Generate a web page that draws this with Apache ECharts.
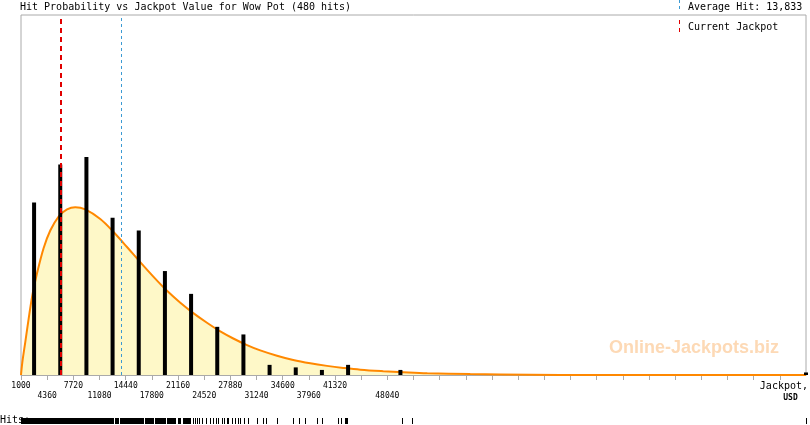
<!DOCTYPE html>
<html>
<head>
<meta charset="utf-8">
<script src="https://cdn.jsdelivr.net/npm/echarts@6/dist/echarts.min.js"></script>
<style>
  html, body { margin: 0; padding: 0; background: #fff; }
  #chart { width: 810px; height: 425px; }
</style>
</head>
<body>
<div id="chart"></div>
<script>
// hits per 3360 USD bin (bin centers), the last one sits on the axis end
const binCenters = [2680, 6040, 9400, 12760, 16120, 19480, 22840, 26200, 29560, 32920, 36280, 39640, 43000, 49720, 101800]
const binHits = [68, 83, 86, 62, 57, 41, 32, 19, 16, 4, 3, 2, 4, 2, 1]

// fitted probability curve (in hits per bin)
const curveX = [1000, 1170, 1550, 2070, 2490, 3050, 3900, 4760, 5830, 6910, 7970, 9260, 11180, 12850, 14610, 16310, 17990, 19750, 21460, 23130, 24880, 26590, 28260, 30020, 31720, 33870, 35960, 38150, 40290, 42380, 44570, 47520, 50090, 53170, 58690, 62540, 70250, 101800]
const curveY = [0, 5, 13, 24, 32, 40, 50, 57, 62.5, 65.3, 66.2, 65.3, 61.5, 56.5, 50.5, 44.5, 38.8, 33.2, 28.5, 24.4, 20.6, 17.2, 14.4, 11.8, 9.7, 7.6, 5.9, 4.6, 3.6, 2.8, 2.1, 1.5, 1.1, 0.7, 0.35, 0.2, 0, 0]

// individual hits strip (from, to) in USD
const rugFrom = [1040, 13110, 13750, 16700, 16960, 17730, 18240, 18630, 19780, 21200, 21840, 22740, 23120, 23380, 23640, 23890, 24280, 24790, 25310, 25690, 26080, 26330, 26850, 27110, 27490, 28140, 28520, 28910, 29160, 29680, 30190, 31350, 32120, 32500, 33910, 35960, 36730, 37500, 39040, 39690, 41740, 42130, 42640, 49960, 51240, 101800]
const rugTo = [12850, 13490, 16570, 16700, 17600, 17990, 18500, 19530, 20810, 21450, 22610, 22740, 23120, 23380, 23640, 23890, 24280, 24790, 25310, 25690, 26080, 26330, 26850, 27110, 27620, 28140, 28520, 28910, 29160, 29680, 30190, 31350, 32120, 32500, 33910, 35960, 36730, 37500, 39040, 39690, 41740, 42130, 42900, 49960, 51240, 101800]

// tick labels, two staggered rows
const labelsTop = [1000, 7720, 14440, 21160, 27880, 34600, 41320]
const labelsBottom = [4360, 11080, 17800, 24520, 31240, 37960, 48040]

const averageHit = 13833
const currentJackpot = 6050
const totalHits = 480

const mono = '"DejaVu Sans Mono", monospace'

const chart = echarts.init(document.getElementById('chart'))

const option = {
  animation: false,
  grid: [
    { left: 21, right: 4, top: 15, height: 360, show: true, borderColor: '#aaa', borderWidth: 1, outerBoundsMode: 'none' },
    { left: 21, right: 4, top: 418, height: 6, outerBoundsMode: 'none' }
  ],
  xAxis: [
    {
      type: 'value',
      gridIndex: 0,
      min: 1000,
      max: 101800,
      interval: 3360,
      axisLine: { show: true, lineStyle: { color: '#aaa', width: 1 } },
      axisTick: { show: true, length: 5, lineStyle: { color: '#aaa' } },
      splitLine: { show: false },
      axisLabel: {
        margin: 6,
        fontFamily: mono,
        fontSize: 8,
        lineHeight: 10,
        color: '#000',
        showMinLabel: true,
        showMaxLabel: false,
        hideOverlap: false,
        formatter: (v) => {
          if (labelsTop.includes(v)) return String(v)
          if (labelsBottom.includes(v)) return '\n' + v
          return ''
        }
      }
    },
    {
      type: 'value',
      gridIndex: 1,
      min: 1000,
      max: 101800,
      show: false
    }
  ],
  yAxis: [
    { type: 'value', gridIndex: 0, min: 0, max: 142, show: false },
    { type: 'value', gridIndex: 1, min: 0, max: 1, show: false }
  ],
  series: [
    {
      name: 'curve',
      type: 'line',
      xAxisIndex: 0,
      yAxisIndex: 0,
      data: curveX.map((x, i) => [x, curveY[i]]),
      smooth: 0.35,
      symbol: 'none',
      lineStyle: { color: '#ff8800', width: 2 },
      areaStyle: { color: '#fef8c8', opacity: 1 },
      z: 2
    },
    {
      name: 'hits',
      type: 'bar',
      xAxisIndex: 0,
      yAxisIndex: 0,
      barWidth: 4,
      data: binCenters.map((x, i) => [x, binHits[i]]),
      itemStyle: { color: '#000' },
      z: 3,
      markLine: {
        silent: true,
        symbol: ['none', 'none'],
        label: { show: false },
        data: [
          { xAxis: currentJackpot, lineStyle: { color: '#e00000', type: [5, 4], width: 2 } },
          { xAxis: averageHit, lineStyle: { color: '#3b9ad3', type: [3, 3], width: 1 } }
        ]
      }
    },
    {
      name: 'rug',
      type: 'custom',
      xAxisIndex: 1,
      yAxisIndex: 1,
      encode: { x: [0, 1] },
      data: rugFrom.map((f, i) => [f, rugTo[i]]),
      renderItem: (params, api) => {
        const a = api.coord([api.value(0), 1])
        const b = api.coord([api.value(1), 0])
        const x0 = Math.floor(a[0])
        return {
          type: 'rect',
          shape: { x: x0, y: a[1], width: Math.max(1, Math.round(b[0]) - x0 + 1), height: b[1] - a[1] },
          style: { fill: '#000' }
        }
      }
    }
  ],
  graphic: [
    {
      type: 'text', x: 20, y: 7,
      style: { text: 'Hit Probability vs Jackpot Value for Wow Pot (' + totalHits + ' hits)', font: '10px ' + mono, fill: '#000', verticalAlign: 'middle' }
    },
    {
      type: 'line', shape: { x1: 679.5, y1: 0, x2: 679.5, y2: 11 },
      style: { stroke: '#3b9ad3', lineWidth: 1, lineDash: [3, 3] }
    },
    {
      type: 'text', x: 688, y: 7,
      style: { text: 'Average Hit: ' + averageHit.toLocaleString('en-US'), font: '10px ' + mono, fill: '#000', verticalAlign: 'middle' }
    },
    {
      type: 'line', shape: { x1: 679.5, y1: 20, x2: 679.5, y2: 34 },
      style: { stroke: '#e00000', lineWidth: 1, lineDash: [4, 4] }
    },
    {
      type: 'text', x: 688, y: 27,
      style: { text: 'Current Jackpot', font: '10px ' + mono, fill: '#000', verticalAlign: 'middle' }
    },
    {
      type: 'text', x: 609, y: 348,
      style: { text: 'Online-Jackpots.biz', font: 'bold 18px "Liberation Sans", Arial, sans-serif', fill: '#fdd9b5', verticalAlign: 'middle' }
    },
    {
      type: 'text', x: 808, y: 386,
      style: { text: 'Jackpot,', font: '10px ' + mono, fill: '#000', align: 'right', verticalAlign: 'middle' }
    },
    {
      type: 'text', x: 790.5, y: 398,
      style: { text: 'USD', font: 'bold 8px ' + mono, fill: '#000', align: 'center', verticalAlign: 'middle' }
    },
    {
      type: 'text', x: 0, y: 420, z: -1,
      style: { text: 'Hits:', font: '10px ' + mono, fill: '#000', verticalAlign: 'middle' }
    }
  ]
}

chart.setOption(option)
</script>
</body>
</html>
